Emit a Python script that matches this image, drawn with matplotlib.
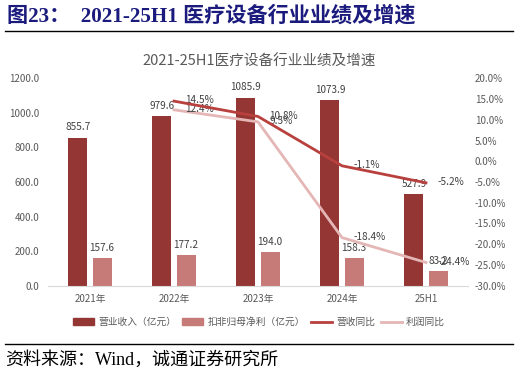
import matplotlib
matplotlib.use("Agg")
import matplotlib.pyplot as plt
from matplotlib.lines import Line2D
from matplotlib.patches import Patch
import numpy as np

plt.rcParams['font.family'] = ['Noto Sans CJK SC', 'DejaVu Sans']

categories = ["2021年", "2022年", "2023年", "2024年", "25H1"]
revenue = [855.7, 979.6, 1085.9, 1073.9, 527.9]
profit = [157.6, 177.2, 194.0, 158.3, 83.2]
rev_growth = [None, 14.5, 10.8, -1.1, -5.2]
profit_growth = [None, 12.4, 9.5, -18.4, -24.4]
left_ticks = [0, 200, 400, 600, 800, 1000, 1200]
right_ticks = [20, 15, 10, 5, 0, -5, -10, -15, -20, -25, -30]

c_rev = "#943634"
c_prof = "#C77B79"
c_rg = "#B8403D"
c_pg = "#E4B6B5"
gray = "#595959"

W, H = 519, 375
fig = plt.figure(figsize=(W/100, H/100), dpi=100)

ax = fig.add_axes([48/W, (H-285.7)/H, 420/W, 207.4/H])
x = np.arange(len(categories))
bw = 0.226
off = 0.143
ax.bar(x - off, revenue, bw, color=c_rev, zorder=2)
ax.bar(x + off, profit, bw, color=c_prof, zorder=2)
ax.set_xlim(-0.5, 4.5)
ax.set_ylim(0, 1200)
ax.set_yticks(left_ticks)
ax.set_yticklabels([f"{v:.1f}" for v in left_ticks], color=gray, fontsize=7)
ax.set_xticks(x)
ax.set_xticklabels(categories, color=gray, fontsize=7)
ax.tick_params(length=0, pad=6)
for s in ["top", "right", "left"]:
    ax.spines[s].set_visible(False)
ax.spines["bottom"].set_color("#D9D9D9")

for i, v in enumerate(revenue):
    ax.annotate(f"{v:.1f}", (x[i] - off, v), xytext=(0, 4), textcoords="offset points",
                ha="center", va="bottom", fontsize=7.2, color="#404040")
for i, v in enumerate(profit):
    ax.annotate(f"{v:.1f}", (x[i] + off, v), xytext=(0, 4), textcoords="offset points",
                ha="center", va="bottom", fontsize=7.2, color="#404040")

ax2 = ax.twinx()
ax2.set_ylim(-30, 20)
ax2.set_yticks(right_ticks)
ax2.set_yticklabels([f"{v:.1f}%" for v in right_ticks], color=gray, fontsize=7)
ax2.tick_params(length=0, pad=5)
for s in ["top", "right", "left", "bottom"]:
    ax2.spines[s].set_visible(False)

xs = x[1:]
ax2.plot(xs, profit_growth[1:], color=c_pg, lw=2, zorder=3)
ax2.plot(xs, rev_growth[1:], color=c_rg, lw=2, zorder=4)
for i in range(1, len(categories)):
    ax2.annotate(f"{rev_growth[i]:.1f}%", (x[i], rev_growth[i]), xytext=(8, 0.5),
                 textcoords="offset points", ha="left", va="center", fontsize=7.2, color="#404040")
    ax2.annotate(f"{profit_growth[i]:.1f}%", (x[i], profit_growth[i]), xytext=(8, 0.5),
                 textcoords="offset points", ha="left", va="center", fontsize=7.2, color="#404040")

fig.text(259/W, 1 - 62/H, "2021-25H1医疗设备行业业绩及增速", ha="center", va="center",
         fontsize=10.5, color=gray)

handles = [Patch(color=c_rev), Patch(color=c_prof),
           Line2D([], [], color=c_rg, lw=2), Line2D([], [], color=c_pg, lw=2)]
labels = ["营业收入（亿元）", "扣非归母净利（亿元）", "营收同比", "利润同比"]
fig.legend(handles, labels, loc="center", bbox_to_anchor=(259/W, 1 - 322/H), ncol=4,
           frameon=False, fontsize=7, labelcolor=gray, handlelength=2.2,
           handleheight=0.7, columnspacing=0.6, handletextpad=0.4)

fig.text(7/W, 1 - 16/H, "图23：  2021-25H1 医疗设备行业业绩及增速", ha="left", va="center",
         fontsize=15.2, fontweight="bold", color="#1B1B7E",
         family=['Liberation Serif', 'Noto Sans CJK SC'])
fig.add_artist(Line2D([5/W, 513/W], [1 - 31/H, 1 - 31/H], color="black", lw=1))
fig.add_artist(Line2D([5/W, 513/W], [1 - 344/H, 1 - 344/H], color="black", lw=1))
fig.text(5/W, 1 - 360/H, "资料来源：Wind，诚通证券研究所", ha="left", va="center",
         fontsize=13, color="black", family=['Liberation Serif', 'Noto Sans CJK SC'])

fig.savefig("out.png", dpi=100)
